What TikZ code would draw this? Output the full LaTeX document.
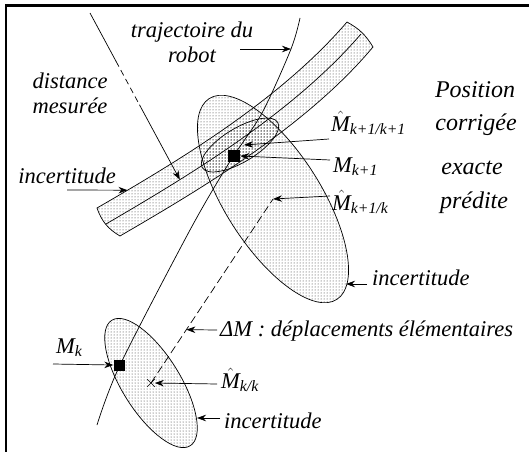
\documentclass[tikz,border=0pt]{standalone}
\usepackage{amsmath}
\usepackage{fontspec}
\setmainfont{Liberation Serif}
\usetikzlibrary{arrows.meta,positioning,calc,patterns,shapes.misc}

\begin{document}
\begin{tikzpicture}[x=1pt,y=-1pt,
    lbl/.style={font=\fontsize{22.5}{25}\selectfont\itshape, inner sep=0pt},
    biglbl/.style={lbl, font=\fontsize{24}{25}\selectfont\itshape},
    ptr/.style={-{Stealth[length=9pt,width=6.5pt]}, line width=0.7pt},
    zone/.style={pattern=dots, pattern color=black!85, line width=0.7pt},
    sqmark/.style={fill, inner sep=0pt, minimum size=12pt},
    xmark/.style={draw, cross out, inner sep=0pt, minimum size=7pt, line width=0.6pt}]
    \useasboundingbox (0,0) rectangle (529,452);
    \draw[line width=2.5pt] (529,5.5) -- (6,5.5) -- (6,452);

    % bande d'incertitude sur la distance
    \draw[zone] (97,208) .. controls (180,160) and (280,100) .. (347,22)
        coordinate[pos=0.12] (ue)
        to[bend left=15] (373,47)
        .. controls (306,127) and (199,190) .. (120,236)
        to[bend left=20] (97,208) -- cycle;
    \draw[line width=0.7pt] (106,224) .. controls (190,175) and (293,113) .. (361,34)
        coordinate[pos=0.28] (dm);

    % ellipses d'incertitude
    \draw[zone, rotate around={-57.6:(273,199)}] (273,199) ellipse [x radius=119, y radius=48];
    \draw[zone, rotate around={31:(240,145)}] (240,145) ellipse [x radius=44, y radius=17];
    \draw[zone, rotate around={-58:(151,383)}] (151,383) ellipse [x radius=74, y radius=29];

    % trajectoire
    \coordinate (trjpt) at (291,49);
    \draw[line width=0.7pt] plot[smooth] coordinates {(97,425) (120,365) (190,230) (229,163) (262,113) (291,49) (300,18)};

    \node[sqmark] (mk1) at (234,156) {};
    \node[sqmark, minimum size=11pt] (mk) at (119,365) {};
    \node[xmark] (mkk) at (151,383) {};
    \coordinate (mpred) at (273,199);
    \coordinate (mcor) at (244,145);

    \draw[dash pattern=on 8pt off 4pt, line width=0.7pt] (mkk.center) -- (mpred)
        coordinate[pos=0.29] (dmv);

    % distance mesuree
    \coordinate (beacon) at (90,13);
    \draw[line width=0.7pt] (beacon) -- ($(beacon)!0.29!(dm)$) coordinate (d1);
    \draw[dash pattern=on 6pt off 4pt, line width=0.7pt] (d1) -- ($(beacon)!0.55!(dm)$) coordinate (d2);
    \draw[ptr] (d2) -- (dm);

    % textes
    \node[lbl, align=center] (traj) at (192,42) {trajectoire du\\robot};
    \node[lbl, align=center] (dist) at (70,93) {distance\\mesurée};
    \node[lbl] (inc1) at (67,176) {incertitude};
    \node[biglbl] (posit) at (475,90) {Position};
    \node[biglbl] (corr) at (476,125) {corrigée};
    \node[biglbl] (exa) at (472,168) {exacte};
    \node[biglbl] (pred) at (474,203) {prédite};
    \node[lbl, anchor=base west] (lmcor) at (331,131) {$\hat{\textit{M}}_{\textit{k+1/k+1}}$};
    \node[lbl, anchor=base west] (lmk1) at (333,172) {$\textit{M}_{\textit{k+1}}$};
    \node[lbl, anchor=base west] (lmpred) at (332,210) {$\hat{\textit{M}}_{\textit{k+1/k}}$};
    \node[lbl, anchor=base west] (inc2) at (372,285) {incertitude};
    \node[lbl, anchor=base west] (dmlbl) at (220,336) {ΔM : déplacements élémentaires};
    \node[lbl, anchor=base west] (lmk) at (56,353) {$\textit{M}_{\textit{k}}$};
    \node[lbl, anchor=base west] (lmkk) at (221,388) {$\hat{\textit{M}}_{\textit{k/k}}$};
    \node[lbl, anchor=base west] (inc3) at (224,428) {incertitude};

    % fleches
    \coordinate (t1) at (67,190);
    \coordinate (t2) at (240,49);
    \coordinate (t3) at (329,139);
    \coordinate (t4) at (330,160);
    \coordinate (t5) at (330,196);
    \coordinate (t6) at (367,284);
    \coordinate (e6) at (346,284);
    \coordinate (t7) at (217,330);
    \coordinate (t8) at (53,364);
    \coordinate (t9) at (217,384);
    \coordinate (t10) at (220,418);
    \coordinate (e10) at (197,418);
    \draw[ptr] (t1) -- (ue);
    \draw[ptr] (t2) -- (trjpt);
    \draw[ptr] (t3) -- (mcor);
    \draw[ptr] (t4) -- (mk1.east);
    \draw[ptr] (t5) -- (mpred);
    \draw[ptr] (t6) -- (e6);
    \draw[ptr] (t7) -- (dmv);
    \draw[ptr] (t8) -- (mk.west);
    \draw[ptr] (t9) -- (mkk.east);
    \draw[ptr] (t10) -- (e10);
\end{tikzpicture}
\end{document}
